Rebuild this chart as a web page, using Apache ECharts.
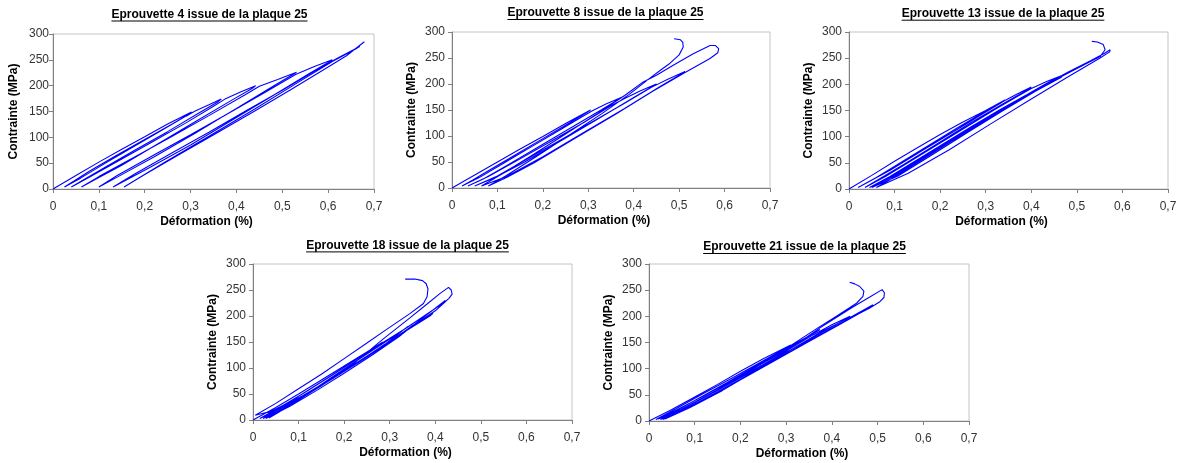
<!DOCTYPE html>
<html>
<head>
<meta charset="utf-8">
<script src="https://cdn.jsdelivr.net/npm/echarts/dist/echarts.min.js"></script>
<style>
html,body{margin:0;padding:0;background:#fff;}
#chart{width:1182px;height:463px;}
</style>
</head>
<body>
<div id="chart"></div>
<script>
// ---------------- DATA ----------------
const titles = [
  'Eprouvette 4 issue de la plaque 25',
  'Eprouvette 8 issue de la plaque 25',
  'Eprouvette 13 issue de la plaque 25',
  'Eprouvette 18 issue de la plaque 25',
  'Eprouvette 21 issue de la plaque 25'
];
const xAxisName = 'Déformation (%)';
const yAxisName = 'Contrainte (MPa)';
const xTickLabels = ['0', '0,1', '0,2', '0,3', '0,4', '0,5', '0,6', '0,7'];
const yTickLabels = ['0', '50', '100', '150', '200', '250', '300'];

// [déformation %, contrainte MPa] — chemins de chargement / déchargement
const eprouvette4 = [
  [0,0],[0.05,26],[0.10,52],[0.15,77],[0.20,101],[0.25,126],[0.302,149],
  [0.295,144],[0.26,126],[0.20,96],[0.14,66],[0.08,35],[0.045,15],[0.025,4],
  [0.06,21],[0.12,53],[0.18,84],[0.24,115],[0.29,141],[0.31,151],[0.34,163],[0.367,174],
  [0.36,169],[0.32,148],[0.25,111],[0.18,76],[0.11,40],[0.065,17],[0.040,4],
  [0.08,23],[0.15,58],[0.22,93],[0.29,128],[0.35,160],[0.375,174],[0.41,188],[0.442,200],
  [0.435,195],[0.39,172],[0.31,130],[0.23,88],[0.15,46],[0.095,20],[0.062,4],
  [0.10,24],[0.18,63],[0.26,102],[0.34,142],[0.42,183],[0.45,199],[0.49,212],[0.531,226],
  [0.524,222],[0.48,199],[0.40,156],[0.31,108],[0.22,62],[0.14,23],[0.100,4],
  [0.14,26],[0.22,66],[0.30,105],[0.38,145],[0.46,186],[0.53,222],[0.57,237],[0.609,250],
  [0.602,246],[0.56,224],[0.48,181],[0.39,133],[0.30,85],[0.21,41],[0.131,4],
  [0.18,30],[0.26,70],[0.34,110],[0.42,151],[0.50,191],[0.58,233],[0.62,253],[0.669,276],
  [0.66,271],[0.61,247],[0.53,204],[0.44,155],[0.34,102],[0.24,50],[0.155,4],
  [0.20,28],[0.28,69],[0.36,110],[0.44,151],[0.52,193],[0.60,236],[0.64,258],[0.679,285]
];

const eprouvette8 = [
  [0,0],[0.05,25],[0.10,50],[0.15,75],[0.20,99],[0.25,124],[0.305,150],
  [0.298,146],[0.26,126],[0.20,95],[0.14,64],[0.08,33],[0.045,15],[0.022,4],
  [0.06,20],[0.12,51],[0.18,82],[0.24,113],[0.29,139],[0.31,149],[0.34,162],[0.375,175],
  [0.368,171],[0.33,151],[0.26,115],[0.19,79],[0.12,43],[0.07,18],[0.035,4],
  [0.08,22],[0.15,56],[0.22,91],[0.29,126],[0.35,158],[0.38,172],[0.415,187],[0.45,200],
  [0.443,196],[0.40,174],[0.32,132],[0.24,91],[0.16,50],[0.095,20],[0.05,4],
  [0.10,23],[0.17,58],[0.24,93],[0.31,128],[0.38,163],[0.44,194],[0.475,209],[0.513,224],
  [0.506,220],[0.46,196],[0.38,153],[0.29,107],[0.20,60],[0.12,22],[0.065,4],
  [0.11,27],[0.18,65],[0.25,104],[0.32,143],[0.38,178],[0.421,204],[0.45,217],[0.487,236],
  [0.531,258],[0.568,274],[0.58,274],[0.587,268],[0.585,260],
  [0.568,249],[0.513,222],[0.44,185],[0.36,142],[0.27,95],[0.18,48],[0.12,20],[0.08,4],
  [0.12,24],[0.19,63],[0.26,103],[0.33,143],[0.39,180],[0.432,209],[0.458,226],[0.48,240],
  [0.50,256],[0.509,271],[0.508,280],[0.503,285],[0.489,287]
];

const eprouvette13 = [
  [0,0],[0.05,26],[0.10,53],[0.15,79],[0.20,104],[0.25,128],[0.30,150],[0.342,170],
  [0.335,165],[0.29,142],[0.23,110],[0.16,73],[0.09,36],[0.02,3],
  [0.06,22],[0.12,54],[0.18,86],[0.24,118],[0.30,149],[0.342,169],[0.37,182],[0.40,195],
  [0.393,190],[0.34,164],[0.27,128],[0.20,90],[0.12,47],[0.035,3],
  [0.08,24],[0.14,56],[0.20,88],[0.26,120],[0.32,152],[0.37,177],[0.40,192],[0.435,206],[0.47,218],
  [0.463,214],[0.40,184],[0.33,148],[0.25,106],[0.17,62],[0.10,25],[0.045,3],
  [0.09,24],[0.15,56],[0.21,88],[0.27,120],[0.33,151],[0.39,180],[0.44,205],[0.47,218],
  [0.465,213],[0.41,187],[0.34,151],[0.26,108],[0.18,64],[0.11,26],[0.05,3],
  [0.09,22],[0.15,54],[0.21,86],[0.27,118],[0.33,150],[0.39,179],[0.44,204],[0.48,223],
  [0.53,245],[0.56,259],[0.573,266],
  [0.572,262],[0.55,250],[0.48,214],[0.40,172],[0.31,124],[0.22,75],[0.13,30],[0.06,3],
  [0.10,23],[0.16,56],[0.22,89],[0.28,121],[0.34,153],[0.40,183],[0.46,212],[0.515,237],
  [0.551,253],[0.562,266],[0.558,276],[0.545,281],[0.533,282]
];

const eprouvette18 = [
  [0,0],[0.05,24],[0.10,50],[0.15,77],[0.20,104],[0.25,131],[0.285,150],
  [0.278,145],[0.23,118],[0.17,84],[0.11,51],[0.05,20],[0.015,3],
  [0.06,22],[0.12,52],[0.18,84],[0.24,117],[0.29,146],[0.315,163],[0.34,180],
  [0.333,175],[0.28,146],[0.21,107],[0.14,68],[0.07,29],[0.022,3],
  [0.07,24],[0.13,55],[0.19,88],[0.25,121],[0.31,156],[0.35,182],[0.375,195],[0.395,205],
  [0.388,200],[0.33,168],[0.26,128],[0.18,84],[0.10,40],[0.028,3],
  [0.08,26],[0.14,57],[0.20,90],[0.26,124],[0.32,160],[0.37,195],[0.40,215],[0.422,230],
  [0.416,224],[0.36,191],[0.29,150],[0.21,104],[0.13,57],[0.06,17],[0.035,4],
  [0.08,28],[0.15,66],[0.22,108],[0.286,156],[0.345,197],[0.382,223],[0.41,243],[0.429,255],
  [0.435,250],[0.437,242],[0.43,234],
  [0.42,226],[0.40,210],[0.34,175],[0.27,134],[0.19,89],[0.11,47],[0.04,17],[0.005,9],
  [0.05,32],[0.10,60],[0.15,88],[0.20,118],[0.25,148],[0.286,170],[0.345,205],[0.374,224],
  [0.382,237],[0.384,252],[0.38,262],[0.372,268],[0.355,271],[0.334,271]
];

const eprouvette21 = [
  [0,0],[0.05,22],[0.10,46],[0.15,70],[0.20,95],[0.25,119],[0.31,145],
  [0.303,141],[0.25,115],[0.19,86],[0.12,53],[0.06,24],[0.015,3],
  [0.06,21],[0.12,48],[0.18,77],[0.24,106],[0.30,136],[0.33,152],[0.374,175],
  [0.367,171],[0.31,143],[0.24,108],[0.17,73],[0.10,39],[0.025,3],
  [0.07,22],[0.13,50],[0.19,79],[0.25,108],[0.31,139],[0.36,165],[0.40,184],[0.44,200],
  [0.433,196],[0.38,170],[0.30,131],[0.22,92],[0.13,49],[0.03,3],
  [0.08,23],[0.14,51],[0.20,80],[0.26,110],[0.32,141],[0.38,172],[0.44,198],[0.49,222],
  [0.483,217],[0.42,186],[0.34,147],[0.26,108],[0.17,64],[0.08,22],[0.035,4],
  [0.09,26],[0.16,58],[0.23,94],[0.30,133],[0.374,178],[0.446,218],[0.483,237],[0.51,251],
  [0.515,245],[0.514,236],[0.505,228],
  [0.483,216],[0.42,187],[0.34,148],[0.26,108],[0.17,64],[0.09,28],[0.02,4],
  [0.07,22],[0.14,55],[0.21,90],[0.28,127],[0.366,176],[0.41,200],[0.454,225],[0.468,238],
  [0.47,248],[0.461,257],[0.45,262],[0.439,265]
];

const seriesData = [eprouvette4, eprouvette8, eprouvette13, eprouvette18, eprouvette21];

// ---------------- LAYOUT ----------------
const FONT = '"Liberation Sans", Arial, sans-serif';
const layout = [
  {left: 53,  top: 34,  width: 321, height: 155, titleX: 209.5, titleY: 8.5,   yGap: 33, yMargin: 4},
  {left: 452, top: 32,  width: 318, height: 156, titleX: 605.5, titleY: 7,     yGap: 34, yMargin: 7},
  {left: 849, top: 32,  width: 319, height: 157, titleX: 1003,  titleY: 7.7,   yGap: 34, yMargin: 7},
  {left: 253, top: 264, width: 319, height: 156, titleX: 407.5, titleY: 239.4, yGap: 34, yMargin: 7},
  {left: 649, top: 264, width: 320, height: 157, titleX: 804.5, titleY: 241,   yGap: 34, yMargin: 7}
];

const measureCtx = document.createElement('canvas').getContext('2d');
measureCtx.font = 'bold 12px ' + FONT;

const grid = [], xAxis = [], yAxis = [], series = [], graphic = [];
layout.forEach((g, i) => {
  grid.push({left: g.left, top: g.top, width: g.width, height: g.height,
    show: true, borderColor: '#c4c4c4', borderWidth: 1, backgroundColor: '#fff'});
  xAxis.push({
    type: 'value', gridIndex: i, min: 0, max: 0.7, interval: 0.1,
    name: xAxisName, nameLocation: 'middle', nameGap: 27,
    nameTextStyle: {fontFamily: FONT, fontSize: 12, fontWeight: 'bold', color: '#000', padding: [0, 14, 0, 0]},
    axisLine: {show: true, onZero: false, lineStyle: {color: '#808080', width: 1}},
    axisTick: {show: true, length: 4, lineStyle: {color: '#808080'}},
    axisLabel: {fontFamily: FONT, fontSize: 12, color: '#333', margin: 12,
      formatter: v => xTickLabels[Math.round(v * 10)]},
    splitLine: {show: false}
  });
  yAxis.push({
    type: 'value', gridIndex: i, min: 0, max: 300, interval: 50,
    name: yAxisName, nameLocation: 'middle', nameGap: g.yGap, nameRotate: 90,
    nameTextStyle: {fontFamily: FONT, fontSize: 12, fontWeight: 'bold', color: '#000'},
    axisLine: {show: true, onZero: false, lineStyle: {color: '#808080', width: 1}},
    axisTick: {show: true, length: 4, lineStyle: {color: '#808080'}},
    axisLabel: {fontFamily: FONT, fontSize: 12, color: '#333', margin: g.yMargin,
      formatter: v => yTickLabels[Math.round(v / 50)]},
    splitLine: {show: false}
  });
  series.push({
    type: 'line', xAxisIndex: i, yAxisIndex: i, data: seriesData[i],
    showSymbol: false, symbol: 'none', smooth: false, clip: true,
    lineStyle: {color: '#0000ff', width: 1.1}, silent: true
  });
  const w = measureCtx.measureText(titles[i]).width;
  graphic.push({
    type: 'text', x: g.titleX, y: g.titleY, silent: true,
    style: {text: titles[i], font: 'bold 12px ' + FONT, fill: '#000',
      align: 'center', verticalAlign: 'top', textAlign: 'center', textVerticalAlign: 'top'}
  });
  graphic.push({
    type: 'line', silent: true,
    shape: {x1: g.titleX - w / 2, y1: g.titleY + 12.5, x2: g.titleX + w / 2, y2: g.titleY + 12.5},
    style: {stroke: '#000', lineWidth: 1}
  });
});

const chart = echarts.init(document.getElementById('chart'), null, {renderer: 'canvas'});
chart.setOption({
  backgroundColor: '#fff',
  animation: false,
  grid, xAxis, yAxis, series, graphic
});
</script>
</body>
</html>
